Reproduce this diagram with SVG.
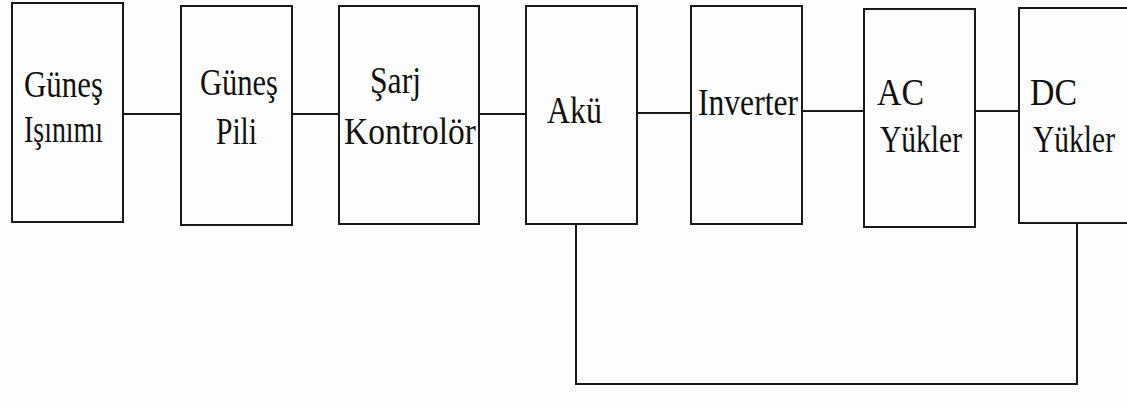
<svg xmlns="http://www.w3.org/2000/svg" width="1127" height="406" viewBox="0 0 1127 406">
<style>
.box{fill:#fdfdfd;stroke:#1a1a1a;stroke-width:2}
.lbl{font-family:"Liberation Serif","Times New Roman",serif;font-size:29px;fill:#111}
.con{fill:none;stroke:#1a1a1a;stroke-width:2}
</style>
<rect width="1127" height="406" fill="#fdfdfd"/>
<g id="connectors">
<line class="con" x1="123" y1="114" x2="181" y2="114"/>
<line class="con" x1="292" y1="114" x2="339" y2="114"/>
<line class="con" x1="479" y1="114" x2="526" y2="114"/>
<line class="con" x1="637" y1="113" x2="691" y2="113"/>
<line class="con" x1="802" y1="111" x2="864" y2="111"/>
<line class="con" x1="975" y1="111" x2="1019" y2="111"/>
<polyline class="con" points="576,224 576,384 1077,384 1077,223"/>
</g>
<g id="gunes-isinimi">
<rect class="box" x="12" y="3" width="111" height="219"/>
<text class="lbl" transform="translate(24,97) scale(1,1.33)" textLength="79" lengthAdjust="spacingAndGlyphs">Güneş</text>
<text class="lbl" transform="translate(24,142) scale(1,1.33)" textLength="79" lengthAdjust="spacingAndGlyphs">Işınımı</text>
</g>
<g id="gunes-pili">
<rect class="box" x="181" y="6" width="111" height="219"/>
<text class="lbl" transform="translate(200,95) scale(1,1.33)" textLength="78" lengthAdjust="spacingAndGlyphs">Güneş</text>
<text class="lbl" transform="translate(216,144) scale(1,1.33)" textLength="41" lengthAdjust="spacingAndGlyphs">Pili</text>
</g>
<g id="sarj-kontrolor">
<rect class="box" x="339" y="6" width="140" height="218"/>
<text class="lbl" transform="translate(370,93) scale(1,1.33)" textLength="51" lengthAdjust="spacingAndGlyphs">Şarj</text>
<text class="lbl" transform="translate(344,144) scale(1,1.33)" textLength="132" lengthAdjust="spacingAndGlyphs">Kontrolör</text>
</g>
<g id="aku">
<rect class="box" x="526" y="6" width="111" height="218"/>
<text class="lbl" transform="translate(547,123) scale(1,1.33)" textLength="55" lengthAdjust="spacingAndGlyphs">Akü</text>
</g>
<g id="inverter">
<rect class="box" x="691" y="6" width="111" height="218"/>
<text class="lbl" transform="translate(698,115) scale(1,1.33)" textLength="100" lengthAdjust="spacingAndGlyphs">Inverter</text>
</g>
<g id="ac-yukler">
<rect class="box" x="864" y="9" width="111" height="218"/>
<text class="lbl" transform="translate(877,105) scale(1,1.33)" textLength="47" lengthAdjust="spacingAndGlyphs">AC</text>
<text class="lbl" transform="translate(880,152) scale(1,1.33)" textLength="82" lengthAdjust="spacingAndGlyphs">Yükler</text>
</g>
<g id="dc-yukler">
<rect class="box" x="1019" y="8" width="120" height="215"/>
<text class="lbl" transform="translate(1030,105) scale(1,1.33)" textLength="47" lengthAdjust="spacingAndGlyphs">DC</text>
<text class="lbl" transform="translate(1033,152) scale(1,1.33)" textLength="82" lengthAdjust="spacingAndGlyphs">Yükler</text>
</g>
</svg>
